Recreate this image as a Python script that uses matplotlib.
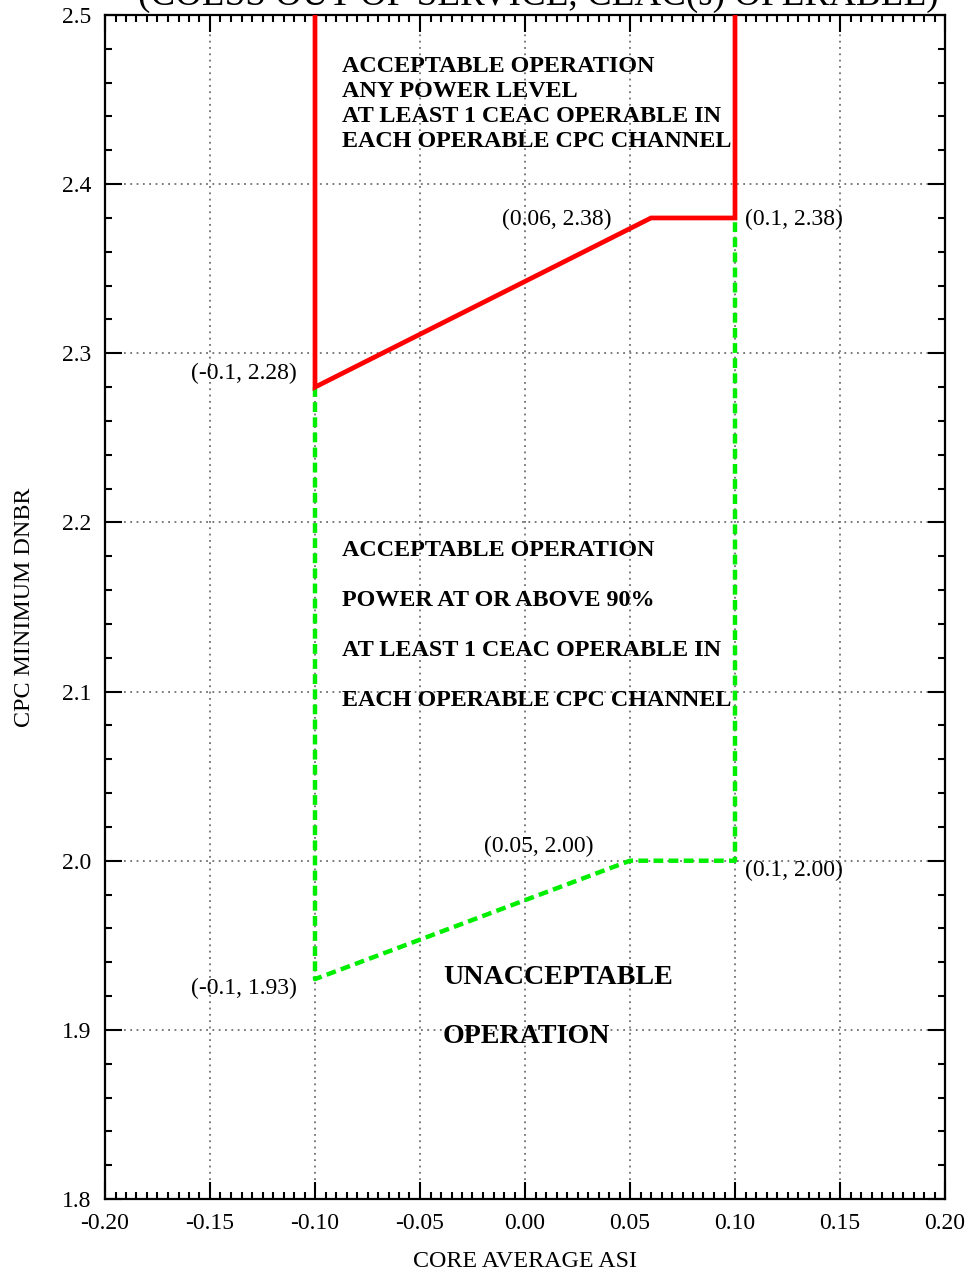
import numpy as np
import matplotlib
matplotlib.use('Agg')
import matplotlib.pyplot as plt
from matplotlib.ticker import MultipleLocator, FormatStrFormatter

plt.rcParams['font.family'] = ['Liberation Serif', 'DejaVu Serif']
plt.rcParams['axes.unicode_minus'] = False

# limit lines (core average ASI vs CPC minimum DNBR)
red_x = [-0.1, -0.1, 0.06, 0.1, 0.1]
red_y = [2.5, 2.28, 2.38, 2.38, 2.5]
green_x = [-0.1, -0.1, 0.05, 0.1, 0.1]
green_y = [2.28, 1.93, 2.00, 2.00, 2.38]

# labelled corner points
pts = [(-0.1, 2.28), (0.06, 2.38), (0.1, 2.38), (0.05, 2.00), (0.1, 2.00), (-0.1, 1.93)]
pt_labels = ['(-0.1, 2.28)', '(0.06, 2.38)', '(0.1, 2.38)', '(0.05, 2.00)', '(0.1, 2.00)', '(-0.1, 1.93)']
pt_offsets = [(-18, 8, 'right'), (-39, -7, 'right'), (10, -7, 'left'),
              (-36, 9, 'right'), (10, -15, 'left'), (-18, -15, 'right')]

upper_text = ['ACCEPTABLE OPERATION', 'ANY POWER LEVEL',
              'AT LEAST 1 CEAC OPERABLE IN', 'EACH OPERABLE CPC CHANNEL']
middle_text = ['ACCEPTABLE OPERATION', 'POWER AT OR ABOVE 90%',
               'AT LEAST 1 CEAC OPERABLE IN', 'EACH OPERABLE CPC CHANNEL']
lower_text = ['UNACCEPTABLE', 'OPERATION']

W, H = 974, 1274
fig = plt.figure(figsize=(W / 100, H / 100), dpi=100)
L, R, T, B = 105, 945, 15, 1199
ax = fig.add_axes([L / W, 1 - B / H, (R - L) / W, (B - T) / H])

xmin, xmax, ymin, ymax = -0.2, 0.2, 1.8, 2.5
ax.set_xlim(xmin, xmax)
ax.set_ylim(ymin, ymax)


def px2data(px, py):
    x = xmin + (px - L) / (R - L) * (xmax - xmin)
    y = ymax - (py - T) / (B - T) * (ymax - ymin)
    return x, y


ax.grid(True, which='major', color='#707070', linestyle=(0, (1, 2.5)), linewidth=1.3)
ax.set_axisbelow(True)

ax.plot(green_x, green_y, color='#00ee00', linewidth=3.2, dashes=(2.2, 1.2), zorder=3)
ax.plot(red_x, red_y, color='#ff0000', linewidth=3.4, solid_joinstyle='miter', zorder=4)

for (px, py), lab, (dx, dy, ha) in zip(pts, pt_labels, pt_offsets):
    ax.annotate(lab, xy=(px, py), xytext=(dx, dy), textcoords='offset pixels',
                ha=ha, va='baseline', fontsize=17)

for i, line in enumerate(upper_text):
    x, y = px2data(342, 72 + 25 * i)
    ax.text(x, y, line, fontsize=17.4, fontweight='bold', va='baseline', ha='left')
for i, line in enumerate(middle_text):
    x, y = px2data(342, 556 + 50 * i)
    ax.text(x, y, line, fontsize=17.4, fontweight='bold', va='baseline', ha='left')
for i, line in enumerate(lower_text):
    x, y = px2data(443, 984 + 59 * i)
    ax.text(x, y, line, fontsize=20.2, fontweight='bold', va='baseline', ha='left')

ax.xaxis.set_major_locator(MultipleLocator(0.05))
ax.xaxis.set_minor_locator(MultipleLocator(0.005))
ax.yaxis.set_major_locator(MultipleLocator(0.1))
ax.yaxis.set_minor_locator(MultipleLocator(0.02))
ax.xaxis.set_major_formatter(FormatStrFormatter('%.2f'))
ax.yaxis.set_major_formatter(FormatStrFormatter('%.1f'))

ax.tick_params(which='both', direction='in', top=True, right=True, width=1.5, labelsize=17)
ax.tick_params(which='major', length=12)
ax.tick_params(which='minor', length=5)
ax.tick_params(axis='x', pad=10)
ax.tick_params(axis='y', pad=10)
for s in ax.spines.values():
    s.set_linewidth(1.6)

ax.set_xlabel('CORE AVERAGE ASI', fontsize=17.3, labelpad=12)
ax.set_ylabel('CPC MINIMUM DNBR', fontsize=17.3, labelpad=19)

fig.text(538 / W, 1 - 5 / H, '(COLSS OUT OF SERVICE, CEAC(s) OPERABLE)',
         fontsize=26.7, ha='center', va='baseline')

fig.savefig('out.png', dpi=100)
